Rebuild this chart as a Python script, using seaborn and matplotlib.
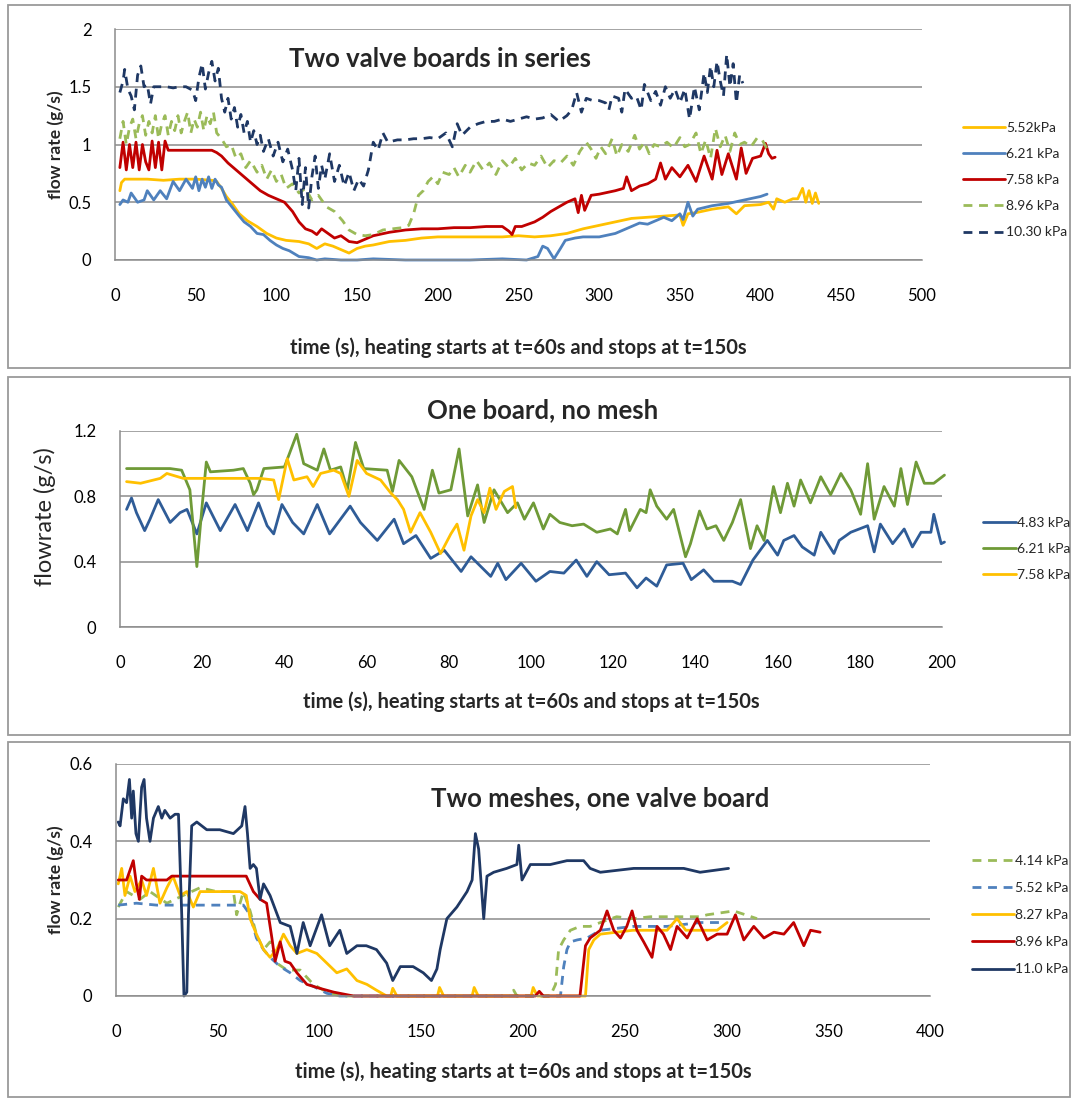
import matplotlib
matplotlib.use("Agg")
import matplotlib.pyplot as plt
from matplotlib.patches import Rectangle
from matplotlib.lines import Line2D
import pandas as pd
import seaborn as sns

# ---------------- data (time s, flow g/s) ----------------
# panel 1: two valve boards in series
p1_552 = [(3,0.60),(4,0.67),(6,0.70),(10,0.70),(20,0.70),(30,0.69),(40,0.70),(50,0.70),(60,0.69),(63,0.68),
          (66,0.62),(69,0.55),(73,0.48),(77,0.40),(82,0.34),(88,0.29),(94,0.23),(100,0.19),(106,0.17),(114,0.16),
          (120,0.14),(125,0.10),(130,0.14),(135,0.12),(140,0.09),(145,0.06),(150,0.10),(155,0.12),(160,0.13),
          (170,0.16),(180,0.17),(190,0.19),(200,0.20),(220,0.20),(240,0.20),(250,0.21),(260,0.20),(270,0.21),
          (280,0.23),(290,0.27),(300,0.30),(310,0.33),(320,0.36),(330,0.37),(340,0.38),(350,0.39),(352,0.30),
          (355,0.40),(360,0.41),(370,0.44),(380,0.46),(385,0.40),(390,0.47),(400,0.48),(405,0.50),(408,0.44),
          (410,0.53),(415,0.50),(420,0.53),(423,0.53),(426,0.62),(428,0.50),(430,0.60),(432,0.49),(434,0.58),(436,0.49)]
p1_621 = [(3,0.48),(5,0.52),(8,0.50),(10,0.58),(14,0.50),(18,0.52),(20,0.60),(24,0.52),(28,0.60),(32,0.53),
          (36,0.68),(40,0.60),(44,0.70),(48,0.62),(50,0.72),(52,0.60),(54,0.70),(56,0.63),(58,0.72),(60,0.62),
          (62,0.70),(64,0.65),(66,0.63),(69,0.52),(73,0.45),(77,0.38),(80,0.33),(84,0.29),(88,0.23),(92,0.22),
          (96,0.17),(100,0.13),(104,0.10),(108,0.08),(114,0.03),(120,0.02),(125,0.0),(130,0.01),(140,0.0),
          (150,0.0),(160,0.01),(180,0.0),(200,0.0),(220,0.0),(240,0.01),(255,0.0),(262,0.03),(265,0.12),
          (268,0.10),(272,0.01),(276,0.10),(279,0.17),(285,0.19),(290,0.20),(300,0.20),(310,0.23),(320,0.29),
          (325,0.32),(330,0.31),(340,0.37),(345,0.34),(350,0.40),(352,0.35),(355,0.50),(358,0.38),(361,0.44),
          (370,0.47),(380,0.49),(390,0.52),(400,0.55),(404,0.57)]
p1_758 = [(3,0.80),(5,1.02),(7,0.78),(9,1.00),(11,0.80),(13,1.02),(15,0.78),(17,1.00),(19,0.85),(21,0.78),
          (23,1.03),(25,0.80),(27,1.02),(29,0.78),(31,1.03),(33,0.95),(40,0.95),(50,0.95),(60,0.95),(63,0.93),
          (66,0.90),(70,0.84),(75,0.78),(80,0.72),(85,0.66),(90,0.60),(95,0.56),(100,0.53),(105,0.50),(110,0.42),
          (114,0.33),(118,0.27),(122,0.25),(125,0.22),(128,0.27),(132,0.23),(136,0.19),(140,0.21),(145,0.16),
          (150,0.15),(155,0.18),(160,0.21),(170,0.24),(180,0.26),(190,0.27),(200,0.27),(210,0.28),(220,0.28),
          (230,0.29),(240,0.29),(244,0.25),(246,0.22),(248,0.29),(252,0.29),(260,0.33),(265,0.37),(270,0.42),
          (280,0.50),(285,0.53),(287,0.41),(289,0.56),(291,0.43),(295,0.56),(300,0.57),(310,0.60),(315,0.62),
          (317,0.72),(320,0.60),(325,0.64),(330,0.66),(335,0.70),(338,0.84),(341,0.70),(345,0.80),(350,0.72),
          (355,0.82),(360,0.68),(365,0.90),(370,0.70),(373,0.95),(376,0.74),(380,0.92),(385,0.70),(388,0.97),
          (391,0.75),(395,0.88),(400,0.90),(403,1.01),(405,0.92),(407,0.88),(409,0.89)]
p1_896 = [(3,1.05),(5,1.20),(7,1.00),(9,1.15),(11,1.22),(13,1.05),(15,1.18),(17,1.25),(19,1.08),(21,1.20),
          (23,1.10),(25,1.25),(27,1.05),(29,1.18),(31,1.25),(33,1.08),(35,1.20),(37,1.12),(39,1.25),(41,1.10),
          (43,1.20),(45,1.28),(47,1.10),(49,1.22),(51,1.15),(53,1.28),(55,1.12),(57,1.25),(59,1.18),(61,1.28),
          (63,1.10),(66,1.05),(69,0.98),(72,1.00),(75,0.88),(78,0.92),(81,0.80),(84,0.86),(88,0.76),(91,0.82),
          (94,0.70),(97,0.78),(100,0.68),(103,0.74),(106,0.62),(110,0.66),(114,0.58),(118,0.62),(122,0.52),
          (126,0.56),(131,0.46),(136,0.42),(141,0.34),(145,0.26),(150,0.22),(155,0.21),(160,0.22),(166,0.26),
          (172,0.27),(178,0.28),(182,0.30),(185,0.40),(188,0.56),(191,0.60),(194,0.68),(197,0.72),(200,0.66),
          (203,0.76),(207,0.74),(210,0.80),(213,0.72),(217,0.82),(220,0.76),(224,0.86),(228,0.78),(232,0.84),
          (236,0.74),(240,0.86),(244,0.80),(248,0.88),(252,0.78),(256,0.84),(260,0.82),(264,0.90),(268,0.80),
          (272,0.86),(276,0.84),(280,0.90),(284,0.82),(288,0.94),(292,1.02),(295,0.96),(298,0.88),(301,0.98),
          (304,0.92),(308,1.05),(311,0.90),(314,1.00),(318,0.94),(322,1.08),(325,0.96),(328,1.02),(331,0.92),
          (334,1.00),(338,0.98),(342,1.02),(346,0.97),(350,1.06),(353,0.98),(356,1.00),(360,1.10),(363,0.92),
          (366,1.04),(369,0.88),(372,1.14),(375,0.98),(378,1.08),(381,0.94),(384,1.10),(387,1.00),(390,1.02),
          (394,0.98),(398,1.06),(401,1.04),(404,0.96)]
p1_1030 = [(3,1.45),(5,1.55),(6,1.65),(8,1.48),(10,1.42),(12,1.30),(14,1.60),(16,1.68),(18,1.50),(20,1.52),
           (22,1.35),(24,1.50),(28,1.50),(32,1.50),(36,1.49),(40,1.50),(44,1.50),(48,1.47),(50,1.38),(52,1.58),
           (54,1.70),(56,1.48),(58,1.62),(60,1.72),(62,1.55),(64,1.66),(66,1.40),(68,1.28),(70,1.40),(72,1.22),
           (74,1.32),(76,1.15),(78,1.26),(80,1.10),(82,1.20),(84,1.02),(86,1.12),(88,1.00),(90,1.08),(92,0.94),
           (95,1.05),(98,0.90),(101,1.02),(104,0.85),(107,0.96),(110,0.78),(112,0.60),(114,0.88),(116,0.48),
           (118,0.80),(120,0.45),(122,0.72),(124,0.90),(126,0.62),(128,0.82),(130,0.70),(133,0.92),(136,0.68),
           (139,0.82),(142,0.64),(145,0.76),(148,0.60),(151,0.70),(154,0.64),(157,0.78),(160,1.02),(163,0.95),
           (166,1.10),(169,1.02),(175,1.04),(180,1.04),(185,1.05),(190,1.05),(195,1.06),(200,1.05),(205,1.10),
           (209,0.98),(212,1.18),(215,1.08),(220,1.15),(225,1.18),(230,1.20),(235,1.20),(240,1.22),(245,1.20),
           (250,1.22),(255,1.24),(260,1.22),(265,1.23),(270,1.26),(275,1.20),(280,1.25),(283,1.30),(286,1.45),
           (289,1.28),(292,1.40),(296,1.38),(300,1.38),(304,1.36),(306,1.30),(308,1.42),(312,1.40),(314,1.28),
           (316,1.48),(320,1.40),(323,1.42),(326,1.30),(328,1.52),(332,1.38),(335,1.46),(338,1.34),(341,1.50),
           (344,1.40),(347,1.48),(350,1.36),(353,1.48),(356,1.22),(359,1.50),(362,1.30),(365,1.62),(367,1.45),
           (369,1.68),(371,1.50),(373,1.72),(375,1.55),(377,1.42),(379,1.78),(381,1.50),(383,1.70),(385,1.36),
           (387,1.60),(389,1.53)]

# panel 2: one board, no mesh
p2_483 = [(1.6,0.72),(2.8,0.79),(4,0.70),(6,0.59),(7.3,0.66),(9.3,0.78),(12.2,0.64),(14.6,0.70),(16.3,0.72),
          (18.7,0.57),(21,0.76),(24.4,0.59),(28,0.75),(31,0.59),(33.7,0.76),(35.8,0.62),(37.4,0.57),(39.4,0.75),
          (42,0.64),(44.7,0.57),(48,0.75),(51,0.57),(56,0.74),(58.5,0.64),(62.6,0.53),(66.7,0.66),(69,0.51),
          (72,0.56),(75.6,0.42),(78.9,0.47),(83,0.34),(85.4,0.43),(90.2,0.31),(91.9,0.39),(93.9,0.29),(97.6,0.39),
          (101.2,0.28),(104.6,0.34),(108,0.33),(111,0.41),(113.6,0.31),(116,0.40),(119,0.32),(123,0.33),
          (125.8,0.24),(128,0.30),(130.6,0.25),(133,0.38),(137,0.39),(139,0.29),(142,0.35),(144.5,0.28),
          (149,0.28),(151,0.26),(154,0.41),(157.5,0.53),(160,0.44),(161.5,0.53),(164,0.56),(166,0.49),
          (168.9,0.44),(170.5,0.58),(173.7,0.45),(175,0.53),(177.8,0.58),(181.9,0.62),(183.5,0.46),(185,0.63),
          (188,0.51),(190.8,0.60),(192.8,0.49),(194.9,0.58),(197.3,0.58),(198,0.69),(199.8,0.51),(200.6,0.52)]
p2_621 = [(1.6,0.97),(8,0.97),(12.2,0.97),(15,0.96),(17,0.84),(18.7,0.37),(19.9,0.72),(21,1.01),(22,0.95),
          (27.6,0.96),(30,0.97),(31.7,0.88),(32.5,0.81),(33.3,0.84),(35,0.97),(40,0.98),(43,1.18),(44.7,1.00),
          (48,0.96),(49.6,1.09),(51.2,0.96),(53.7,0.98),(55.3,0.84),(57.3,1.13),(59.3,0.97),(65,0.96),(66.3,0.83),
          (67.9,1.02),(71,0.92),(74,0.72),(76,0.96),(77.6,0.82),(80.5,0.84),(82.5,1.09),(84.6,0.68),(87,0.87),
          (88.6,0.64),(91,0.84),(94.3,0.70),(96.7,0.76),(98.4,0.66),(100.6,0.76),(103,0.60),(104.6,0.69),
          (107,0.64),(110,0.62),(112.8,0.63),(116,0.58),(119.3,0.60),(121,0.57),(123,0.72),(124,0.59),
          (126.6,0.72),(128,0.70),(129,0.84),(130.6,0.74),(133,0.66),(134.7,0.72),(137.6,0.43),(138.8,0.51),
          (141,0.71),(142.8,0.60),(145,0.62),(146.9,0.53),(149,0.64),(151,0.78),(153.4,0.48),(155,0.62),
          (156.7,0.53),(159,0.86),(160.7,0.70),(162.4,0.88),(164,0.74),(165.6,0.90),(168,0.76),(170.5,0.92),
          (172.9,0.81),(175.4,0.94),(177.8,0.84),(180.2,0.69),(181.9,1.00),(183.5,0.66),(185.9,0.86),
          (188.4,0.74),(190,0.97),(191.6,0.75),(193.7,1.01),(195.7,0.88),(198,0.88),(200.6,0.93)]
p2_758 = [(1.6,0.89),(5,0.88),(9.8,0.91),(11.4,0.94),(15.4,0.91),(20,0.91),(27.6,0.91),(34,0.91),(37.4,0.90),
          (38.6,0.78),(40.7,1.03),(42.3,0.90),(45.5,0.92),(47,0.86),(48.8,0.94),(52,0.96),(53.7,0.94),(55.7,0.80),
          (57.7,1.02),(60,0.94),(63.4,0.90),(65.9,0.82),(67.5,0.78),(69,0.72),(70.7,0.58),(73,0.70),(75.6,0.58),
          (78,0.45),(80.5,0.57),(82,0.63),(83.7,0.47),(85.4,0.68),(87,0.78),(88.6,0.70),(90,0.85),(91.5,0.72),
          (93.5,0.83),(95.5,0.86),(96.3,0.73)]

# panel 3: two meshes, one valve board
p3_414 = [(1.1,0.23),(5.2,0.27),(11.8,0.25),(16.7,0.27),(25,0.24),(33,0.26),(41.3,0.28),(49.5,0.27),(57.7,0.27),
          (59.3,0.21),(62.6,0.27),(65.9,0.22),(69,0.16),(72.5,0.12),(75.7,0.14),(79,0.085),(84,0.067),(90.5,0.067),
          (97,0.03),(103.6,0.01),(110,0.0),(150,0.0),(194,0.0),(195.4,0.015),(197,0.0),(213.4,0.0),(216,0.03),
          (217.5,0.12),(220,0.145),(223.3,0.17),(228,0.18),(233,0.18),(238,0.19),(246,0.205),(254,0.20),
          (262.6,0.205),(270.8,0.205),(279,0.205),(287,0.205),(290.5,0.21),(303.6,0.22),(315,0.20)]
p3_552 = [(1.1,0.235),(10,0.24),(20,0.235),(30,0.235),(40,0.235),(50,0.235),(62.6,0.235),(65.9,0.21),(69,0.15),
          (72.5,0.12),(75.7,0.10),(80.7,0.076),(85.6,0.06),(90.5,0.04),(97,0.025),(103.6,0.007),(110,0.0),
          (150,0.0),(200,0.0),(218.4,0.0),(220,0.076),(221.6,0.12),(223.3,0.14),(226.6,0.145),(231.5,0.15),
          (238,0.17),(254,0.18),(270.8,0.18),(287,0.19),(298.7,0.19)]
p3_827 = [(1.1,0.29),(2.8,0.33),(4.4,0.26),(6.9,0.31),(9.3,0.27),(12.6,0.30),(15,0.26),(18.4,0.33),(21.6,0.24),
          (25,0.28),(28,0.31),(31.5,0.26),(34.8,0.27),(38,0.23),(41.3,0.27),(48,0.27),(54.4,0.27),(61,0.27),
          (64,0.26),(65.9,0.20),(69,0.16),(72.5,0.12),(75.7,0.10),(79,0.12),(82.3,0.16),(85.6,0.13),(88.9,0.11),
          (93.8,0.12),(98.7,0.11),(103.6,0.085),(108.5,0.06),(113.4,0.07),(118.4,0.04),(123.3,0.03),(128,0.015),
          (133,0.0),(135,0.0),(136,0.02),(138,0.0),(158,0.0),(159,0.022),(161,0.0),(175,0.0),(176,0.022),
          (178,0.0),(204,0.0),(205,0.022),(207,0.0),(226.6,0.0),(230.7,0.0),(232.3,0.12),(234.8,0.145),
          (238,0.16),(254,0.17),(270.8,0.17),(275.7,0.20),(280,0.17),(295.4,0.17),(300.3,0.19)]
p3_896 = [(1.1,0.30),(5.2,0.30),(8.5,0.35),(10,0.29),(11.5,0.25),(12.6,0.31),(15,0.30),(25,0.30),(27.4,0.31),
          (64,0.31),(67.5,0.27),(70.8,0.25),(74,0.24),(76.6,0.15),(78.2,0.09),(80.7,0.14),(83,0.09),(85.6,0.085),
          (88.9,0.06),(93.8,0.03),(100,0.02),(107,0.01),(116.7,0.0),(126.6,0.0),(150,0.0),(175,0.0),(200,0.0),
          (206,0.0),(208,0.012),(210,0.0),(228,0.0),(230.7,0.13),(233,0.15),(238,0.17),(241.3,0.22),(244.6,0.17),
          (247.9,0.15),(251,0.18),(253.6,0.22),(256,0.17),(259.3,0.14),(263.4,0.10),(265.9,0.18),(269,0.16),
          (272.5,0.12),(275.7,0.18),(280.7,0.15),(285.6,0.20),(290.5,0.145),(295.4,0.16),(300.3,0.16),
          (304.4,0.21),(308.5,0.145),(313.4,0.18),(318.4,0.15),(323.3,0.165),(328.2,0.16),(333,0.19),(338,0.13),
          (341.3,0.17),(346,0.165)]
p3_110 = [(1.1,0.45),(2,0.44),(3.6,0.51),(5.2,0.50),(6.6,0.56),(7.7,0.46),(8.5,0.53),(9.8,0.42),(11,0.40),
          (12.6,0.54),(13.8,0.56),(15,0.46),(16.7,0.40),(18.4,0.46),(20.8,0.49),(22.5,0.46),(24,0.48),(26.6,0.46),
          (29,0.47),(30.7,0.47),(32.3,0.21),(33.4,0.0),(34.8,0.01),(35.6,0.21),(37.2,0.44),(39.7,0.45),(44.6,0.43),
          (51,0.43),(57.7,0.42),(61.8,0.44),(63.4,0.49),(64.6,0.42),(65.9,0.33),(67.5,0.34),(69,0.33),(70.8,0.25),
          (72.5,0.29),(75.7,0.26),(80.7,0.19),(85.6,0.18),(88.9,0.11),(92,0.19),(95.4,0.13),(101,0.21),(105,0.13),
          (110,0.17),(113.4,0.11),(118.4,0.13),(123,0.13),(128,0.12),(133,0.085),(136,0.04),(139.7,0.076),
          (146,0.076),(151,0.06),(155,0.04),(157.7,0.07),(159.3,0.12),(162.6,0.20),(167.5,0.23),(172.5,0.27),
          (175,0.30),(176.6,0.42),(178.2,0.38),(180.7,0.20),(182.3,0.31),(185.6,0.32),(192,0.33),(197,0.34),
          (197.9,0.39),(199.5,0.30),(203.6,0.34),(213.4,0.34),(221.6,0.35),(229.8,0.35),(233,0.33),(238,0.32),
          (254.4,0.33),(262.6,0.33),(270.8,0.33),(279,0.33),(287,0.32),(301,0.33)]

titles = ["Two valve boards in series", "One board, no mesh", "Two meshes, one valve board"]
xlabel = "time (s), heating starts at t=60s and stops at t=150s"

# ---------------- styling ----------------
sns.set_theme(style="white")
plt.rcParams["font.family"] = ["Lato", "DejaVu Sans"]

W, H = 1078, 1100
fig = plt.figure(figsize=(W / 100, H / 100), dpi=100)
GRID = "#8c8c8c"


def px_axes(l, t, r, b):
    return fig.add_axes([l / W, 1 - b / H, (r - l) / W, (b - t) / H])


def fig_text(x, y, s, **kw):
    fig.text(x / W, 1 - y / H, s, **kw)


def to_frame(series):
    rows = []
    for name, pts in series.items():
        for t, v in pts:
            rows.append((name, t, v))
    return pd.DataFrame(rows, columns=["series", "time", "flow"])


def draw_panel(ax, series, palette, dashes, xmax, xstep, ymax, ystep, tick_fs):
    df = to_frame(series)
    order = list(series.keys())
    sns.lineplot(data=df, x="time", y="flow", hue="series", style="series",
                 hue_order=order, style_order=order, palette=palette, dashes=dashes,
                 estimator=None, sort=False, legend=False, lw=2.0, ax=ax)
    for ln in ax.lines:
        ln.set_clip_on(False)
        ln.set_solid_joinstyle("round")
    ax.set_xlim(0, xmax)
    ax.set_ylim(0, ymax)
    ax.set_xticks([i * xstep for i in range(int(round(xmax / xstep)) + 1)])
    yt = [round(i * ystep, 2) for i in range(int(round(ymax / ystep)) + 1)]
    ax.set_yticks(yt)
    ax.set_yticklabels([f"{v:g}" for v in yt])
    ax.set_xlabel("")
    ax.set_ylabel("")
    ax.yaxis.grid(True, color=GRID, lw=1.1)
    ax.xaxis.grid(False)
    ax.set_axisbelow(True)
    for s in ["top", "right"]:
        ax.spines[s].set_visible(False)
    for s in ["left", "bottom"]:
        ax.spines[s].set_color(GRID)
        ax.spines[s].set_linewidth(1.1)
    ax.tick_params(axis="both", direction="out", length=5, width=1.1, color=GRID,
                   labelsize=tick_fs, labelcolor="black")
    ax.tick_params(axis="y", pad=12)
    ax.tick_params(axis="x", pad=15)
    ax.patch.set_alpha(0)


def legend(entries, x, y0, dy, hl=3.0, fs=10):
    handles = []
    for label, color, dash in entries:
        ls = "-" if dash == "" else (0, dash)
        handles.append(Line2D([], [], color=color, lw=2.0, linestyle=ls))
    labels = [e[0] for e in entries]
    leg = fig.legend(handles, labels, loc="upper left", bbox_to_anchor=(x / W, 1 - y0 / H),
                     frameon=False, fontsize=fs, handlelength=hl, handletextpad=0.1,
                     labelspacing=(dy - fs * 1.389) / (fs * 1.389), borderaxespad=0, borderpad=0)
    return leg


YEL, LBLUE, RED, LGREEN, NAVY = "#FFC000", "#4F81BD", "#C00000", "#9BBB59", "#1F3864"
DASH = (3.2, 2.4)

# panel boxes
for (t, b) in [(5, 368), (377, 735), (742, 1097)]:
    fig.patches.append(Rectangle((8 / W, 1 - b / H), (1070 - 8) / W, (b - t) / H,
                                 transform=fig.transFigure, fill=False, ec="#9a9a9a", lw=1.3))

# ---------------- panel 1 ----------------
ax1 = px_axes(115, 29, 922, 260)
s1 = {"5.52kPa": p1_552, "6.21 kPa": p1_621, "7.58 kPa": p1_758, "8.96 kPa": p1_896, "10.30 kPa": p1_1030}
c1 = [YEL, LBLUE, RED, LGREEN, NAVY]
d1 = ["", "", "", DASH, DASH]
draw_panel(ax1, s1, dict(zip(s1, c1)), dict(zip(s1, d1)), 500, 50, 2.0, 0.5, 12)
fig_text(440, 59, titles[0], ha="center", va="center", fontsize=18.5, fontweight="bold")
fig_text(518, 348, xlabel, ha="center", va="center", fontsize=14.5, fontweight="bold")
fig_text(56, 145, "flow rate (g/s)", ha="center", va="center", rotation=90, fontsize=12.5, fontweight="bold")
legend(list(zip(s1, c1, d1)), 963, 122, 28, hl=3.0)

# ---------------- panel 2 ----------------
ax2 = px_axes(120, 431, 942, 627)
s2 = {"4.83 kPa": p2_483, "6.21 kPa": p2_621, "7.58 kPa": p2_758}
c2 = ["#2F5C97", "#6F9A37", YEL]
d2 = ["", "", ""]
draw_panel(ax2, s2, dict(zip(s2, c2)), dict(zip(s2, d2)), 200, 20, 1.2, 0.4, 12)
fig_text(543, 410, titles[1], ha="center", va="center", fontsize=18.5, fontweight="bold")
fig_text(531, 702, xlabel, ha="center", va="center", fontsize=14.5, fontweight="bold")
fig_text(45, 517, "flowrate (g/s)", ha="center", va="center", rotation=90, fontsize=17)
legend(list(zip(s2, c2, d2)), 983, 517, 28, hl=2.35)

# ---------------- panel 3 ----------------
ax3 = px_axes(116, 764, 930, 996)
s3 = {"4.14 kPa": p3_414, "5.52 kPa": p3_552, "8.27 kPa": p3_827, "8.96 kPa": p3_896, "11.0 kPa": p3_110}
c3 = [LGREEN, LBLUE, YEL, RED, NAVY]
d3 = [DASH, DASH, "", "", ""]
draw_panel(ax3, s3, dict(zip(s3, c3)), dict(zip(s3, d3)), 400, 50, 0.6, 0.2, 12)
fig_text(600, 798, titles[2], ha="center", va="center", fontsize=18.5, fontweight="bold")
fig_text(523, 1072, xlabel, ha="center", va="center", fontsize=14.5, fontweight="bold")
fig_text(56, 880, "flow rate (g/s)", ha="center", va="center", rotation=90, fontsize=12.5, fontweight="bold")
legend(list(zip(s3, c3, d3)), 972, 855, 29, hl=3.0)

fig.savefig("out.png", dpi=100, facecolor="white")
